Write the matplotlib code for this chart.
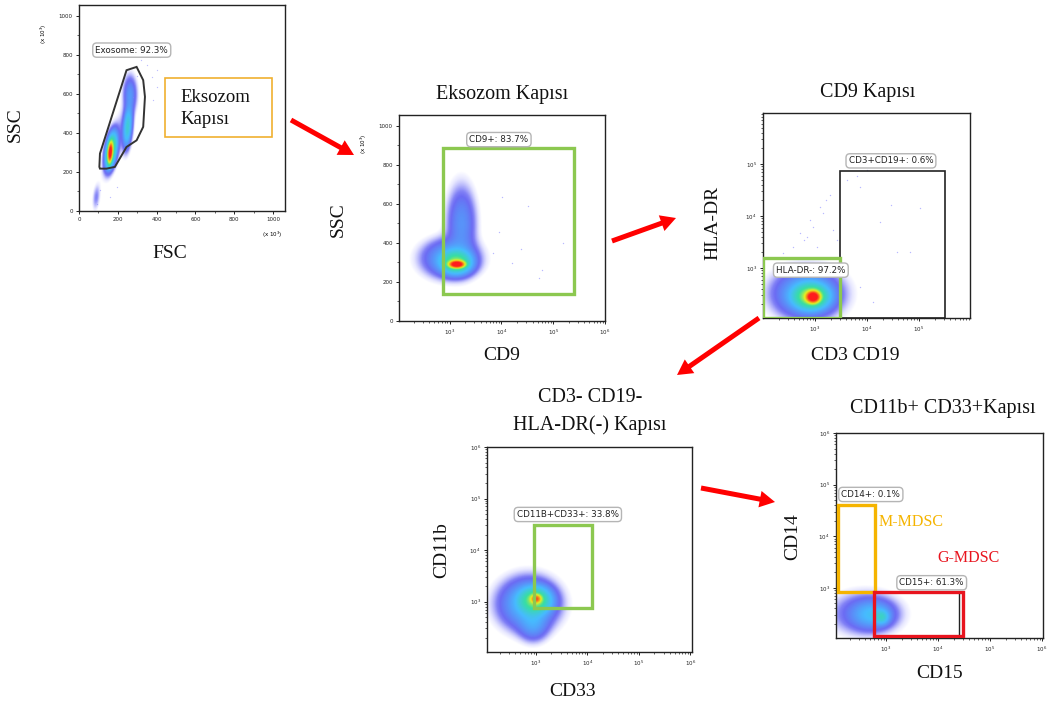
import matplotlib
matplotlib.use("Agg")
import matplotlib.pyplot as plt
import numpy as np
from matplotlib.colors import LinearSegmentedColormap
from matplotlib.patches import Rectangle, Polygon, FancyArrowPatch
from matplotlib.ticker import MultipleLocator, LogLocator, NullFormatter, FixedLocator

W, H = 1052, 711
SERIF = "Liberation Serif"

# ---------------- data ----------------
# panel 1: FSC / SSC (x 10^3), linear
P1_GATE_X = [105, 108, 245, 297, 331, 340, 331, 297, 245, 185, 142, 108]
P1_GATE_Y = [226, 294, 721, 738, 670, 585, 431, 362, 328, 226, 217, 217]
# density components: centre x, centre y, sd x, sd y, correlation, weight
P1_CX = [160, 165, 250, 262, 88, 200]
P1_CY = [300, 310, 430, 600, 70, 380]
P1_SX = [7, 17, 14, 20, 12, 45]
P1_SY = [28, 50, 60, 55, 40, 120]
P1_RHO = [0.3, 0.4, 0.3, 0.0, 0.3, 0.8]
P1_W = [1.2, 0.2, 0.08, 0.025, 0.008, 0.006]
P1_DOT_X = [348, 374, 400, 322, 280, 383, 194, 160, 91, 108, 400, 417, 300, 330]
P1_DOT_Y = [747, 687, 636, 773, 585, 568, 123, 72, 38, 106, 721, 790, 690, 640]

# panel 2: CD9 (log10) / SSC (x 10^3)
P2_GATE = (10 ** 2.865, 138, 10 ** 5.40, 887)
P2_CX = [3.13, 3.12, 3.0, 3.22]
P2_CY = [290, 300, 320, 500]
P2_SX = [0.08, 0.16, 0.3, 0.16]
P2_SY = [10, 32, 55, 110]
P2_RHO = [0.0, 0.0, 0.0, 0.0]
P2_W = [1.5, 0.18, 0.04, 0.025]
P2_DOT_X = [4.01, 4.51, 3.96, 4.21, 4.79, 5.18, 4.38, 4.73, 3.83]
P2_DOT_Y = [634, 590, 458, 299, 262, 402, 368, 219, 347]

# panel 3: CD3 CD19 / HLA-DR (both log10)
P3_GREEN = (10 ** 2.0, 10 ** 2.04, 10 ** 3.48, 10 ** 3.19)
P3_BLACK = (10 ** 3.48, 10 ** 2.04, 10 ** 5.5, 10 ** 4.87)
P3_CX = [2.96, 2.92, 2.85]
P3_CY = [2.44, 2.45, 2.5]
P3_SX = [0.07, 0.18, 0.36]
P3_SY = [0.06, 0.13, 0.26]
P3_RHO = [0.0, 0.0, 0.0]
P3_W = [1.5, 0.25, 0.05]
P3_DOT_X = [3.29, 3.22, 3.10, 2.90, 2.71, 2.97, 2.78, 2.58, 3.61, 3.80, 3.87, 4.47, 5.02,
            4.25, 4.57, 4.83, 4.12, 3.87, 3.35, 3.16, 2.84, 2.39, 3.42, 3.03, 3.99]
P3_DOT_Y = [4.40, 4.31, 4.18, 3.92, 3.67, 3.79, 3.54, 3.41, 4.69, 4.76, 4.56, 4.21, 4.15,
            3.89, 3.31, 3.31, 2.35, 2.64, 3.73, 4.05, 3.60, 3.28, 3.54, 3.41, 4.88]

# panel 4: CD33 / CD11b (log10)
P4_GATE = (10 ** 2.96, 10 ** 2.88, 10 ** 4.08, 10 ** 4.48)
P4_CX = [3.0, 2.98, 2.85, 2.95]
P4_CY = [3.05, 3.02, 2.95, 2.55]
P4_SX = [0.06, 0.17, 0.32, 0.16]
P4_SY = [0.05, 0.14, 0.28, 0.18]
P4_RHO = [0.0, 0.0, 0.0, 0.0]
P4_W = [0.6, 0.18, 0.05, 0.025]

# panel 5: CD15 / CD14 (log10)
P5_ORANGE = (10 ** 2.08, 10 ** 2.92, 10 ** 2.79, 10 ** 4.6)
P5_RED = (10 ** 2.77, 10 ** 2.07, 10 ** 4.48, 10 ** 2.92)
P5_CX = [2.92, 2.75, 2.6]
P5_CY = [2.43, 2.48, 2.5]
P5_SX = [0.08, 0.22, 0.38]
P5_SY = [0.08, 0.15, 0.24]
P5_RHO = [0.0, 0.0, 0.0]
P5_W = [0.06, 0.04, 0.018]

FLOW_CMAP = LinearSegmentedColormap.from_list(
    "flow", [(0.0, "#a0a0ff"), (0.25, "#2828ee"), (0.5, "#10a8ff"),
             (0.68, "#10d890"), (0.82, "#e8f000"), (1.0, "#ff1010")])
SPAN = 2.6

GREEN = "#8cc850"
ORANGE = "#f5b400"
RED = "#e8141e"
ARROW_RED = "#ff0000"


def fig_xy(px, py):
    return px / W, 1 - py / H


def add_axes(fig, l, t, r, b):
    return fig.add_axes([l / W, 1 - b / H, (r - l) / W, (b - t) / H])


def density_image(ax, xlim, ylim, logx, logy, cx, cy, sx, sy, rho, w):
    gx0 = np.log10(xlim) if logx else np.array(xlim, float)
    gy0 = np.log10(ylim) if logy else np.array(ylim, float)
    gx = np.linspace(gx0[0], gx0[1], 320)
    gy = np.linspace(gy0[0], gy0[1], 320)
    X, Y = np.meshgrid(gx, gy)
    d = np.zeros_like(X)
    for a, b, s1, s2, r, k in zip(cx, cy, sx, sy, rho, w):
        dx = (X - a) / s1
        dy = (Y - b) / s2
        q = (dx ** 2 - 2 * r * dx * dy + dy ** 2) / (1 - r ** 2)
        d += k * np.exp(-0.5 * q)
    ld = np.log10(d + 1e-12)
    lv = np.clip((ld + SPAN) / SPAN, 0, 1)
    rgba = FLOW_CMAP(lv)
    rgba[..., 3] = np.clip((ld + SPAN + 0.3) / 0.8, 0, 1) * (0.6 + 0.35 * lv)
    ax.imshow(rgba, extent=(0, 1, 0, 1), transform=ax.transAxes, origin="lower",
              aspect="auto", interpolation="bilinear", zorder=1)


def style_axes(ax):
    for s in ax.spines.values():
        s.set_linewidth(1.0)
        s.set_color("#222222")
    ax.tick_params(which="major", length=2.5, width=0.7, labelsize=4, colors="#222222", pad=2)
    ax.tick_params(which="minor", length=1.3, width=0.5, colors="#222222")


def log_axis(axis):
    axis.set_major_locator(FixedLocator([1e3, 1e4, 1e5, 1e6]))
    axis.set_minor_locator(LogLocator(base=10, subs=np.arange(2, 10), numticks=20))
    axis.set_minor_formatter(NullFormatter())


def gate_label(ax, x, y, text):
    ax.text(x, y, text, fontsize=6.3, color="#222222", ha="center", va="center",
            family="DejaVu Sans", zorder=6,
            bbox=dict(boxstyle="round,pad=0.3,rounding_size=0.45", fc="white",
                      ec="#b5b5b5", lw=1.0))


def rect(ax, box, color, lw, z=4):
    x0, y0, x1, y1 = box
    ax.add_patch(Rectangle((x0, y0), x1 - x0, y1 - y0, fill=False, ec=color, lw=lw, zorder=z))


def ftext(fig, px, py, s, size=14.5, rot=0, color="#111111", ha="center"):
    x, y = fig_xy(px, py)
    fig.text(x, y, s, fontsize=size, family=SERIF, rotation=rot, color=color,
             ha=ha, va="center")


def arrow(fig, p0, p1):
    a = FancyArrowPatch(fig_xy(*p0), fig_xy(*p1), transform=fig.transFigure,
                        arrowstyle="simple,head_length=11,head_width=12,tail_width=3.6",
                        mutation_scale=1, color=ARROW_RED, shrinkA=0, shrinkB=0, lw=0)
    fig.add_artist(a)


fig = plt.figure(figsize=(W / 100, H / 100), dpi=100)
fig.patch.set_facecolor("white")

# ---------------- panel 1 ----------------
ax = add_axes(fig, 79, 5, 285, 211)
lim1x, lim1y = (0, 1062), (0, 1055)
density_image(ax, lim1x, lim1y, False, False, P1_CX, P1_CY, P1_SX, P1_SY, P1_RHO, P1_W)
ax.scatter(P1_DOT_X, P1_DOT_Y, s=0.9, color="#8080ff", alpha=0.5, lw=0, zorder=2)
ax.add_patch(Polygon(np.column_stack([P1_GATE_X, P1_GATE_Y]), closed=True, fill=False,
                     ec="#333333", lw=1.4, zorder=4))
gate_label(ax, 272, 824, "Exosome: 92.3%")
ax.set_xlim(*lim1x)
ax.set_ylim(*lim1y)
ax.xaxis.set_major_locator(MultipleLocator(200))
ax.xaxis.set_minor_locator(MultipleLocator(100))
ax.yaxis.set_major_locator(MultipleLocator(200))
ax.yaxis.set_minor_locator(MultipleLocator(100))
style_axes(ax)
ax.text(-0.17, 0.86, "(x 10$^3$)", transform=ax.transAxes, fontsize=4, rotation=90,
        ha="center", va="center")
ax.text(0.94, -0.115, "(x 10$^3$)", transform=ax.transAxes, fontsize=4, ha="center", va="center")
box = Rectangle(fig_xy(165, 137), 107 / W, 59 / H, transform=fig.transFigure, fill=False,
                ec="#f0b030", lw=1.2, zorder=5)
fig.add_artist(box)
ftext(fig, 180, 97, "Eksozom", size=13.5, ha="left")
ftext(fig, 180, 120, "Kapısı", size=13.5, ha="left")
ftext(fig, 15, 125, "SSC", size=14, rot=90)
ftext(fig, 170, 254, "FSC", size=14)

# ---------------- panel 2 ----------------
ax = add_axes(fig, 399, 115, 605, 321)
lim2x, lim2y = (10 ** 2.02, 10 ** 6.0), (0, 1056)
ax.set_xscale("log")
density_image(ax, lim2x, lim2y, True, False, P2_CX, P2_CY, P2_SX, P2_SY, P2_RHO, P2_W)
ax.scatter(10 ** np.array(P2_DOT_X), P2_DOT_Y, s=1.0, color="#8080ff", alpha=0.55, lw=0, zorder=2)
rect(ax, P2_GATE, GREEN, 2.4)
gate_label(ax, 10 ** 3.95, 930, "CD9+: 83.7%")
ax.set_xlim(*lim2x)
ax.set_ylim(*lim2y)
log_axis(ax.xaxis)
ax.yaxis.set_major_locator(MultipleLocator(200))
ax.yaxis.set_minor_locator(MultipleLocator(100))
style_axes(ax)
ax.text(-0.17, 0.86, "(x 10$^3$)", transform=ax.transAxes, fontsize=4, rotation=90,
        ha="center", va="center")
ftext(fig, 502, 95, "Eksozom Kapısı")
ftext(fig, 338, 220, "SSC", size=14, rot=90)
ftext(fig, 502, 356, "CD9", size=14)

# ---------------- panel 3 ----------------
ax = add_axes(fig, 763, 113, 970, 318)
lim3x, lim3y = (10 ** 2.0, 10 ** 5.98), (10 ** 2.04, 10 ** 5.98)
ax.set_xscale("log")
ax.set_yscale("log")
density_image(ax, lim3x, lim3y, True, True, P3_CX, P3_CY, P3_SX, P3_SY, P3_RHO, P3_W)
ax.scatter(10 ** np.array(P3_DOT_X), 10 ** np.array(P3_DOT_Y), s=1.0, color="#8080ff",
           alpha=0.55, lw=0, zorder=2)
rect(ax, P3_BLACK, "#222222", 1.2)
rect(ax, P3_GREEN, GREEN, 2.4, z=5)
gate_label(ax, 10 ** 4.46, 10 ** 5.06, "CD3+CD19+: 0.6%")
gate_label(ax, 10 ** 2.92, 10 ** 2.96, "HLA-DR-: 97.2%")
ax.set_xlim(*lim3x)
ax.set_ylim(*lim3y)
log_axis(ax.xaxis)
log_axis(ax.yaxis)
style_axes(ax)
ftext(fig, 868, 93, "CD9 Kapısı")
ftext(fig, 713, 223, "HLA-DR", size=14, rot=90)
ftext(fig, 855, 356, "CD3 CD19", size=14)

# ---------------- panel 4 ----------------
ax = add_axes(fig, 487, 447, 692, 652)
lim4x, lim4y = (10 ** 2.05, 10 ** 6.03), (10 ** 2.02, 10 ** 6.0)
ax.set_xscale("log")
ax.set_yscale("log")
density_image(ax, lim4x, lim4y, True, True, P4_CX, P4_CY, P4_SX, P4_SY, P4_RHO, P4_W)
rect(ax, P4_GATE, GREEN, 2.4)
gate_label(ax, 10 ** 3.62, 10 ** 4.69, "CD11B+CD33+: 33.8%")
ax.set_xlim(*lim4x)
ax.set_ylim(*lim4y)
log_axis(ax.xaxis)
log_axis(ax.yaxis)
style_axes(ax)
ftext(fig, 590, 398, "CD3- CD19-")
ftext(fig, 590, 425, "HLA-DR(-) Kapısı")
ftext(fig, 442, 550, "CD11b", size=14, rot=90)
ftext(fig, 573, 692, "CD33", size=14)

# ---------------- panel 5 ----------------
ax = add_axes(fig, 836, 433, 1043, 638)
lim5x, lim5y = (10 ** 2.04, 10 ** 6.02), (10 ** 2.03, 10 ** 6.0)
ax.set_xscale("log")
ax.set_yscale("log")
density_image(ax, lim5x, lim5y, True, True, P5_CX, P5_CY, P5_SX, P5_SY, P5_RHO, P5_W)
ax.plot([10 ** 4.4, 10 ** 4.4], [10 ** 2.07, 10 ** 2.92], color="#222222", lw=1.0, zorder=4)
rect(ax, P5_ORANGE, ORANGE, 2.4)
rect(ax, P5_RED, RED, 2.4)
gate_label(ax, 10 ** 2.71, 10 ** 4.81, "CD14+: 0.1%")
gate_label(ax, 10 ** 3.88, 10 ** 3.1, "CD15+: 61.3%")
ax.text(10 ** 2.86, 10 ** 4.27, "M-MDSC", color=ORANGE, family=SERIF, fontsize=11.5,
        ha="left", va="center", zorder=6)
ax.text(10 ** 3.98, 10 ** 3.58, "G-MDSC", color=RED, family=SERIF, fontsize=11.5,
        ha="left", va="center", zorder=6)
ax.set_xlim(*lim5x)
ax.set_ylim(*lim5y)
log_axis(ax.xaxis)
log_axis(ax.yaxis)
style_axes(ax)
ftext(fig, 943, 408, "CD11b+ CD33+Kapısı")
ftext(fig, 793, 537, "CD14", size=14, rot=90)
ftext(fig, 940, 674, "CD15", size=14)

# ---------------- arrows ----------------
arrow(fig, (291, 120), (354, 155))
arrow(fig, (612, 241), (676, 218))
arrow(fig, (759, 318), (677, 375))
arrow(fig, (701, 488), (775, 502))

fig.savefig("out.png", dpi=100, facecolor="white")
